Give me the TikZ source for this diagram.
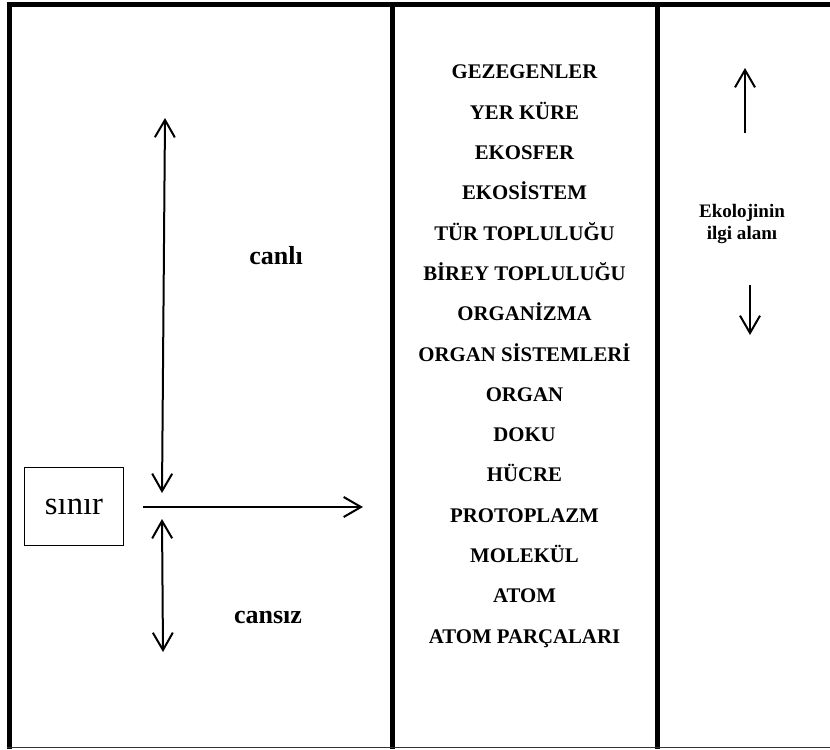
\documentclass[tikz,border=0pt]{standalone}
\usepackage{fontspec}
\setmainfont{Liberation Serif}
\usetikzlibrary{arrows.meta}
\begin{document}
\begin{tikzpicture}[x=0.75pt,y=-0.75pt,
  frame/.style={line width=3.75pt},
  barb/.tip={Straight Barb[length=13pt,width=15pt,line width=1.5pt]},
  arr/.style={line width=1.5pt,-barb},
  darr/.style={line width=1.5pt,barb-barb},
  level/.style={font=\bfseries\fontsize{15.6pt}{18pt}\selectfont,anchor=base,inner sep=0pt},
  side/.style={font=\bfseries\fontsize{19.5pt}{22pt}\selectfont,anchor=base,inner sep=0pt},
  note/.style={font=\bfseries\fontsize{14.3pt}{15.8pt}\selectfont,align=center,inner sep=0pt}]
\useasboundingbox (0,0) rectangle (830,749);
\fill[white] (0,0) rectangle (830,749);

% outer frame and column dividers
\draw[frame] (9.5,749) -- (9.5,4.5) -- (834,4.5);
\draw[frame] (392.5,4.5) -- (392.5,749);
\draw[frame] (657,4.5) -- (657,749);
\draw[line width=1.2pt,black!80] (7,747.5) -- (830,747.5);

% levels of organisation
\foreach \t [count=\i from 0] in {GEZEGENLER,YER KÜRE,EKOSFER,EKOSİSTEM,TÜR TOPLULUĞU,BİREY TOPLULUĞU,ORGANİZMA,ORGAN SİSTEMLERİ,ORGAN,DOKU,HÜCRE,PROTOPLAZM,MOLEKÜL,ATOM,ATOM PARÇALARI}
  \node[level] (lv\i) at (524.5,79+40.29*\i) {\t};

% left column: boundary between living and non-living
\node[draw,line width=0.9pt,minimum width=74pt,minimum height=59pt,inner sep=0pt,
      font=\fontsize{24.5pt}{26pt}\selectfont] (sinir) at (74,506.5) {sınır};
\node[side] (canli) at (276,264) {canlı};
\node[side] (cansiz) at (268,623) {cansız};

\coordinate (up1) at (165,118);
\coordinate (dn1) at (162,493);
\coordinate (hl) at (143,507);
\coordinate (hr) at (363,507);
\coordinate (up2) at (162,519);
\coordinate (dn2) at (163,652);
\draw[darr] (dn1) -- (up1);
\draw[arr] (hl) -- (hr);
\draw[darr] (up2) -- (dn2);

% right column: scope of ecology
\node[note] (eko) at (742,224) {Ekolojinin\\ilgi alanı};
\coordinate (ra1) at (745,133);
\coordinate (ra2) at (745,68);
\coordinate (rb1) at (750,285);
\coordinate (rb2) at (750,335);
\draw[arr] (ra1) -- (ra2);
\draw[arr] (rb1) -- (rb2);
\end{tikzpicture}
\end{document}
